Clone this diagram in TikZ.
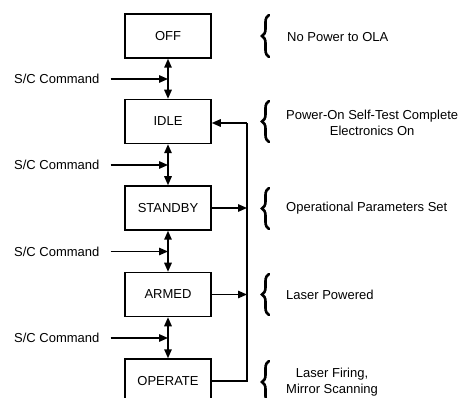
\documentclass[tikz,border=0pt]{standalone}
\usepackage{fontspec}
\setsansfont{Liberation Sans}
\usetikzlibrary{arrows.meta, positioning, calc, decorations.pathreplacing}

\begin{document}
\begin{tikzpicture}[
  x=1pt, y=-1pt,
  every node/.style={font=\sffamily\fontsize{13}{15.5}\selectfont},
  mode/.style={draw=black, line width=1.5pt, minimum width=86pt, minimum height=44pt, inner sep=0pt},
  arrow/.style={-{Triangle[length=9pt, width=7.5pt]}, line width=1.5pt},
  dblarrow/.style={{Triangle[length=9pt, width=7.5pt]}-{Triangle[length=9pt, width=7.5pt]}, line width=1.5pt},
  cmd/.style={anchor=west, inner sep=0pt},
  note/.style={anchor=west, align=center, inner sep=0pt},
  bracket/.style={decorate, decoration={brace, amplitude=7pt}, line width=2.6pt, line cap=round}
]

\useasboundingbox (0,0) rectangle (458,398);

% === MODE BOXES ===
\node[mode] (off)   at (168, 36)    {OFF};
\node[mode] (idle)  at (168, 121.5) {IDLE};
\node[mode] (stby)  at (168, 208)   {STANDBY};
\node[mode] (armed) at (168, 294.5) {ARMED};
\node[mode] (oper)  at (168, 381)   {OPERATE};

% === TRANSITIONS ===
\draw[dblarrow] (off.south)   -- (idle.north);
\draw[dblarrow] (idle.south)  -- (stby.north);
\draw[dblarrow] (stby.south)  -- (armed.north);
\draw[dblarrow] (armed.south) -- (oper.north);

% === S/C COMMANDS ===
\node[cmd] (cmdA) at (14, 79)    {S/C Command};
\node[cmd] (cmdB) at (14, 165)   {S/C Command};
\node[cmd] (cmdC) at (14, 251.5) {S/C Command};
\node[cmd] (cmdD) at (14, 338)   {S/C Command};

\draw[arrow] ([xshift=11pt]cmdA.east) -- (cmdA -| off);
\draw[arrow] ([xshift=11pt]cmdB.east) -- (cmdB -| off);
\draw[arrow] ([xshift=11pt]cmdC.east) -- (cmdC -| off);
\draw[arrow] ([xshift=11pt]cmdD.east) -- (cmdD -| off);

% === RETURN BUS ===
\coordinate (bus) at (247, 123);
\draw[line width=1.5pt] (oper.east) -| (bus);
\draw[arrow] (bus) -- (bus -| idle.east);
\draw[arrow] (stby.east)  -- (stby.east -| bus);
\draw[arrow] (armed.east) -- (armed.east -| bus);

% === DESCRIPTIONS ===
\draw[bracket] (269, 57)  -- (269, 15);
\draw[bracket] (269, 142) -- (269, 101);
\draw[bracket] (269, 229) -- (269, 188);
\draw[bracket] (269, 315) -- (269, 274);
\draw[bracket] (269, 403) -- (269, 361);

\node[note] (nOff)   at (287, 37)  {No Power to OLA};
\node[note] (nIdle)  at (286, 123) {Power-On Self-Test Complete\\Electronics On};
\node[note] (nStby)  at (286, 208) {Operational Parameters Set};
\node[note] (nArmed) at (286, 295) {Laser Powered};
\node[note] (nOper)  at (286, 382) {Laser Firing,\\Mirror Scanning};

\end{tikzpicture}
\end{document}
